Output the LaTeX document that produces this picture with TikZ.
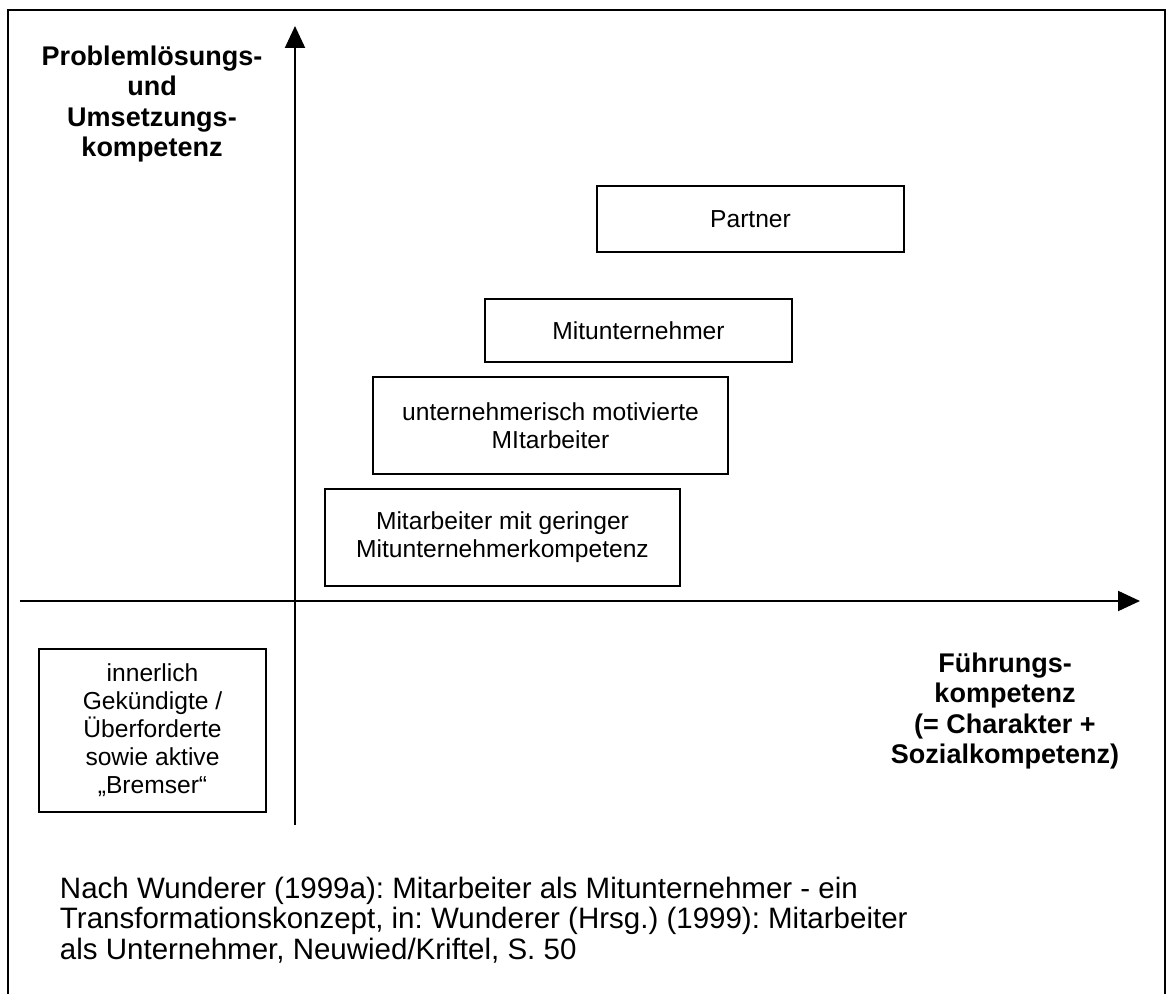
\documentclass[tikz,border=0pt]{standalone}
\usepackage{fontspec}
\setmainfont{Liberation Sans}
\usetikzlibrary{arrows.meta}
\frenchspacing

\begin{document}
\begin{tikzpicture}[x=0.5pt, y=-0.5pt, >={Triangle[length=11pt,width=10pt]}, line width=1pt,
  kbox/.style={draw, inner sep=0pt, align=center, font=\fontsize{12.3}{14}\selectfont},
  axlabel/.style={align=center, inner sep=0pt, font=\bfseries\fontsize{13.5}{15.3}\selectfont}]
\useasboundingbox (0,0) rectangle (1168,994);
% frame, open at the bottom
\draw (8,994) -- (8,10) -- (1165,10) -- (1165,994);
% axes
\coordinate (xstart) at (20,601);
\coordinate (xend) at (1140,601);
\coordinate (ystart) at (295,825);
\coordinate (yend) at (295,26);
\draw[->] (xstart) -- (xend);
\draw[->] (ystart) -- (yend);
\node[axlabel] (ylabel) at (152,104) {Problemlösungs-\\und\\Umsetzungs-\\kompetenz};
\node[axlabel] (xlabel) at (1005,711) {Führungs-\\kompetenz\\(= Charakter +\\Sozialkompetenz)};
% the competence boxes
\node[kbox, minimum width=153.5pt, minimum height=33pt] (partner) at (750.5,219) {Partner};
\node[kbox, minimum width=153.5pt, minimum height=31.5pt] (mitunt) at (638.5,330.5) {Mitunternehmer};
\node[kbox, minimum width=177.5pt, minimum height=48.5pt] (motiv) at (550.5,425.5) {unternehmerisch motivierte\\MItarbeiter};
\node[kbox, minimum width=177.5pt, minimum height=48.5pt] (gering) at (502.5,537.5) {Mitarbeiter mit geringer\\Mitunternehmerkompetenz};
\node[kbox, minimum width=113.5pt, minimum height=81.5pt] (bremser) at (152.5,730) {innerlich\\Gekündigte /\\Überforderte\\sowie aktive\\„Bremser“};
% source
\node[anchor=west, align=left, inner sep=0pt, font=\fontsize{14.75}{15.3}\selectfont] (quelle) at (59,920)
  {Nach Wunderer (1999a): Mitarbeiter als Mitunternehmer - ein\\Transformationskonzept, in: Wunderer (Hrsg.) (1999): Mitarbeiter\\als Unternehmer, Neuwied/Kriftel, S. 50};
\end{tikzpicture}
\end{document}
